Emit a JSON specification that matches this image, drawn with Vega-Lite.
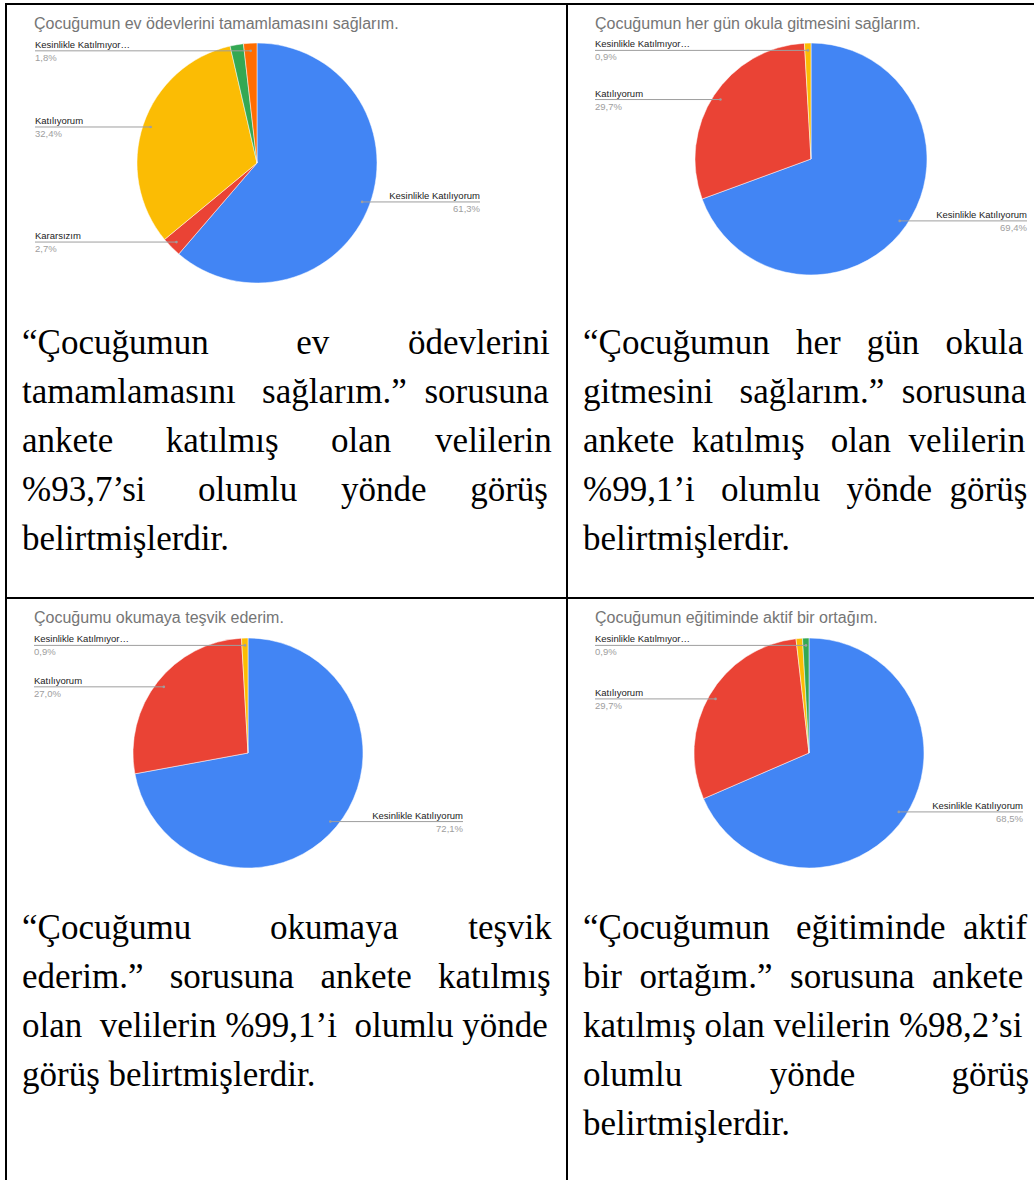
{
  "$schema": "https://vega.github.io/schema/vega-lite/v6.json",
  "background": "#ffffff",
  "padding": {"left": 5, "top": 3, "right": 0, "bottom": 0},
  "autosize": {"type": "pad"},
  "config": {
    "view": {"stroke": "#000000", "strokeWidth": 2},
    "locale": {"number": {"decimal": ",", "thousands": ".", "grouping": [3], "currency": ["", " TL"]}},
    "title": {"anchor": "start", "frame": "group", "offset": -28, "dx": 28, "baseline": "alphabetic", "font": "Liberation Sans", "fontSize": 16, "fontWeight": "normal", "color": "#757575"},
    "text": {"font": "Liberation Sans"}
  },
  "datasets": {
    "slices": [
      {"q": "A", "order": 1, "label": "Kesinlikle Katılıyorum", "share": 0.613},
      {"q": "A", "order": 2, "label": "Kararsızım", "share": 0.027},
      {"q": "A", "order": 3, "label": "Katılıyorum", "share": 0.324},
      {"q": "A", "order": 4, "share": 0.018},
      {"q": "A", "order": 5, "label": "Kesinlikle Katılmıyorum", "share": 0.018},
      {"q": "B", "order": 1, "label": "Kesinlikle Katılıyorum", "share": 0.694},
      {"q": "B", "order": 2, "label": "Katılıyorum", "share": 0.297},
      {"q": "B", "order": 3, "label": "Kesinlikle Katılmıyorum", "share": 0.009},
      {"q": "C", "order": 1, "label": "Kesinlikle Katılıyorum", "share": 0.721},
      {"q": "C", "order": 2, "label": "Katılıyorum", "share": 0.270},
      {"q": "C", "order": 3, "label": "Kesinlikle Katılmıyorum", "share": 0.009},
      {"q": "D", "order": 1, "label": "Kesinlikle Katılıyorum", "share": 0.685},
      {"q": "D", "order": 2, "label": "Katılıyorum", "share": 0.297},
      {"q": "D", "order": 3, "share": 0.009},
      {"q": "D", "order": 4, "label": "Kesinlikle Katılmıyorum", "share": 0.009}
    ],
    "para": [
      {"q": "A", "line": 1, "text": "“Çocuğumun \u00a0\u00a0\u00a0\u00a0\u00a0\u00a0\u00a0\u00a0\u00a0ev \u00a0\u00a0\u00a0\u00a0\u00a0\u00a0\u00a0\u00a0ödevlerini"},
      {"q": "A", "line": 2, "text": "tamamlamasını \u00a0\u00a0sağlarım.” \u00a0sorusuna"},
      {"q": "A", "line": 3, "text": "ankete \u00a0\u00a0\u00a0\u00a0\u00a0katılmış \u00a0\u00a0\u00a0\u00a0\u00a0olan \u00a0\u00a0\u00a0\u00a0velilerin"},
      {"q": "A", "line": 4, "text": "%93,7’si \u00a0\u00a0\u00a0\u00a0\u00a0olumlu \u00a0\u00a0\u00a0\u00a0yönde \u00a0\u00a0\u00a0\u00a0görüş"},
      {"q": "A", "line": 5, "text": "belirtmişlerdir."},
      {"q": "B", "line": 1, "text": "“Çocuğumun \u00a0\u00a0her \u00a0\u00a0gün \u00a0\u00a0okula"},
      {"q": "B", "line": 2, "text": "gitmesini \u00a0\u00a0sağlarım.” \u00a0sorusuna"},
      {"q": "B", "line": 3, "text": "ankete \u00a0katılmış \u00a0\u00a0olan \u00a0velilerin"},
      {"q": "B", "line": 4, "text": "%99,1’i \u00a0\u00a0olumlu \u00a0\u00a0yönde \u00a0görüş"},
      {"q": "B", "line": 5, "text": "belirtmişlerdir."},
      {"q": "C", "line": 1, "text": "“Çocuğumu \u00a0\u00a0\u00a0\u00a0\u00a0\u00a0\u00a0\u00a0okumaya \u00a0\u00a0\u00a0\u00a0\u00a0\u00a0\u00a0teşvik"},
      {"q": "C", "line": 2, "text": "ederim.” \u00a0\u00a0sorusuna \u00a0\u00a0ankete \u00a0\u00a0katılmış"},
      {"q": "C", "line": 3, "text": "olan \u00a0velilerin %99,1’i \u00a0olumlu yönde"},
      {"q": "C", "line": 4, "text": "görüş belirtmişlerdir."},
      {"q": "D", "line": 1, "text": "“Çocuğumun \u00a0\u00a0eğitiminde \u00a0aktif"},
      {"q": "D", "line": 2, "text": "bir \u00a0ortağım.” \u00a0sorusuna \u00a0ankete"},
      {"q": "D", "line": 3, "text": "katılmış olan velilerin %98,2’si"},
      {"q": "D", "line": 4, "text": "olumlu \u00a0\u00a0\u00a0\u00a0\u00a0\u00a0\u00a0\u00a0\u00a0yönde \u00a0\u00a0\u00a0\u00a0\u00a0\u00a0\u00a0\u00a0\u00a0\u00a0görüş"},
      {"q": "D", "line": 5, "text": "belirtmişlerdir."}
    ]
  },
  "columns": 2,
  "spacing": 0,
  "bounds": "flush",
  "align": "each",
  "concat": [
    {
      "width": 561, "height": 594,
      "title": {"text": "Çocuğumun ev ödevlerini tamamlamasını sağlarım."},
      "resolve": {"scale": {"x": "independent", "y": "independent"}},
      "layer": [
        {
          "data": {"name": "slices"},
          "transform": [{"filter": "datum.q === 'A'"}],
          "mark": {"type": "arc", "radius": 120, "xOffset": -29.5, "yOffset": -138, "stroke": "#ffffff", "strokeWidth": 0.5},
          "encoding": {
            "theta": {"field": "share", "type": "quantitative", "stack": true},
            "order": {"field": "order", "type": "quantitative"},
            "color": {"field": "order", "type": "nominal", "scale": {"domain": [1, 2, 3, 4, 5], "range": ["#4285f4", "#ea4335", "#fbbc04", "#34a853", "#ff6d01"]}, "legend": null}
          }
        },
        {
          "data": {"name": "slices"},
          "transform": [
            {"filter": "datum.q === 'A'"},
            {"stack": "share", "groupby": [], "sort": [{"field": "order", "order": "ascending"}], "as": ["f0", "f1"]},
            {"fold": ["f0", "f1"], "as": ["edge", "frac"]},
            {"aggregate": [{"op": "mean", "field": "frac", "as": "mid"}], "groupby": ["order", "label", "share"]},
            {"filter": "isValid(datum.label)"}
          ],
          "encoding": {
            "y": {"field": "mid", "type": "quantitative", "axis": null, "scale": {"zero": false, "nice": false,
              "domain": [0, 0.041667, 0.083333, 0.125, 0.166667, 0.208333, 0.25, 0.291667, 0.333333, 0.375, 0.416667, 0.458333, 0.5, 0.541667, 0.583333, 0.625, 0.666667, 0.708333, 0.75, 0.791667, 0.833333, 0.875, 0.916667, 0.958333, 1],
              "range": [46, 49.85, 61.14, 79.1, 102.5, 129.76, 159, 188.24, 215.5, 238.9, 256.86, 268.15, 272, 268.15, 256.86, 238.9, 215.5, 188.24, 159, 129.76, 102.5, 79.1, 61.14, 49.85, 46]}}
          },
          "layer": [
            {
              "transform": [{"filter": "datum.order !== 1"}],
              "mark": {"type": "rule", "color": "#9e9e9e", "strokeWidth": 1},
              "encoding": {
                "x": {"field": "mid", "type": "quantitative", "axis": null, "scale": {"zero": false, "nice": false,
                  "domain": [-1, 0, 0.041667, 0.083333, 0.125, 0.166667, 0.208333, 0.25, 0.291667, 0.333333, 0.375, 0.416667, 0.458333, 0.5, 0.541667, 0.583333, 0.625, 0.666667, 0.708333, 0.75, 0.791667, 0.833333, 0.875, 0.916667, 0.958333, 1, 2],
                  "range": [29, 251, 280.24, 307.5, 330.9, 348.86, 360.15, 364, 360.15, 348.86, 330.9, 307.5, 280.24, 251, 221.76, 194.5, 171.1, 153.14, 141.85, 138, 141.85, 153.14, 171.1, 194.5, 221.76, 251, 474]}},
                "x2": {"datum": -1}
              }
            },
            {
              "transform": [{"filter": "datum.order === 1"}],
              "mark": {"type": "rule", "color": "#9e9e9e", "strokeWidth": 1},
              "encoding": {"x": {"field": "mid", "type": "quantitative", "axis": null}, "x2": {"datum": 2}}
            },
            {
              "mark": {"type": "circle", "size": 7, "color": "#9e9e9e", "opacity": 1},
              "encoding": {"x": {"field": "mid", "type": "quantitative", "axis": null}}
            },
            {
              "transform": [{"filter": "datum.order !== 1"}],
              "mark": {"type": "text", "align": "left", "baseline": "alphabetic", "dy": -3, "fontSize": 9.5, "color": "#222222", "limit": 96},
              "encoding": {"x": {"datum": -1, "type": "quantitative", "axis": null}, "text": {"field": "label", "type": "nominal"}}
            },
            {
              "transform": [{"filter": "datum.order !== 1"}],
              "mark": {"type": "text", "align": "left", "baseline": "alphabetic", "dy": 10, "fontSize": 9.5, "color": "#9e9e9e"},
              "encoding": {"x": {"datum": -1, "type": "quantitative", "axis": null}, "text": {"field": "share", "type": "quantitative", "format": ".1%"}}
            },
            {
              "transform": [{"filter": "datum.order === 1"}],
              "mark": {"type": "text", "align": "right", "baseline": "alphabetic", "dy": -3, "fontSize": 9.5, "color": "#222222"},
              "encoding": {"x": {"datum": 2, "type": "quantitative", "axis": null}, "text": {"field": "label", "type": "nominal"}}
            },
            {
              "transform": [{"filter": "datum.order === 1"}],
              "mark": {"type": "text", "align": "right", "baseline": "alphabetic", "dy": 10, "fontSize": 9.5, "color": "#9e9e9e"},
              "encoding": {"x": {"datum": 2, "type": "quantitative", "axis": null}, "text": {"field": "share", "type": "quantitative", "format": ".1%"}}
            }
          ]
        },
        {
          "data": {"name": "para"},
          "transform": [{"filter": "datum.q === 'A'"}],
          "mark": {"type": "text", "align": "left", "baseline": "alphabetic", "font": "Liberation Serif", "fontSize": 35, "color": "#000000"},
          "encoding": {
            "x": {"datum": 0, "type": "quantitative", "axis": null, "scale": {"domain": [0, 1], "range": [16, 546]}},
            "y": {"field": "line", "type": "ordinal", "axis": null, "scale": {"type": "point", "domain": [1, 2, 3, 4, 5], "range": [350, 546], "padding": 0}},
            "text": {"field": "text", "type": "nominal"}
          }
        }
      ]
    },
    {
      "width": 468, "height": 594,
      "title": {"text": "Çocuğumun her gün okula gitmesini sağlarım."},
      "resolve": {"scale": {"x": "independent", "y": "independent"}},
      "layer": [
        {
          "data": {"name": "slices"},
          "transform": [{"filter": "datum.q === 'B'"}],
          "mark": {"type": "arc", "radius": 116, "xOffset": 10, "yOffset": -142, "stroke": "#ffffff", "strokeWidth": 0.5},
          "encoding": {
            "theta": {"field": "share", "type": "quantitative", "stack": true},
            "order": {"field": "order", "type": "quantitative"},
            "color": {"field": "order", "type": "nominal", "scale": {"domain": [1, 2, 3, 4, 5], "range": ["#4285f4", "#ea4335", "#fbbc04", "#34a853", "#ff6d01"]}, "legend": null}
          }
        },
        {
          "data": {"name": "slices"},
          "transform": [
            {"filter": "datum.q === 'B'"},
            {"stack": "share", "groupby": [], "sort": [{"field": "order", "order": "ascending"}], "as": ["f0", "f1"]},
            {"fold": ["f0", "f1"], "as": ["edge", "frac"]},
            {"aggregate": [{"op": "mean", "field": "frac", "as": "mid"}], "groupby": ["order", "label", "share"]},
            {"filter": "isValid(datum.label)"}
          ],
          "encoding": {
            "y": {"field": "mid", "type": "quantitative", "axis": null, "scale": {"zero": false, "nice": false,
              "domain": [0, 0.041667, 0.083333, 0.125, 0.166667, 0.208333, 0.25, 0.291667, 0.333333, 0.375, 0.416667, 0.458333, 0.5, 0.541667, 0.583333, 0.625, 0.666667, 0.708333, 0.75, 0.791667, 0.833333, 0.875, 0.916667, 0.958333, 1],
              "range": [46, 49.72, 60.61, 77.93, 100.5, 126.79, 155, 183.21, 209.5, 232.07, 249.39, 260.28, 264, 260.28, 249.39, 232.07, 209.5, 183.21, 155, 126.79, 100.5, 77.93, 60.61, 49.72, 46]}}
          },
          "layer": [
            {
              "transform": [{"filter": "datum.order !== 1"}],
              "mark": {"type": "rule", "color": "#9e9e9e", "strokeWidth": 1},
              "encoding": {
                "x": {"field": "mid", "type": "quantitative", "axis": null, "scale": {"zero": false, "nice": false,
                  "domain": [-1, 0, 0.041667, 0.083333, 0.125, 0.166667, 0.208333, 0.25, 0.291667, 0.333333, 0.375, 0.416667, 0.458333, 0.5, 0.541667, 0.583333, 0.625, 0.666667, 0.708333, 0.75, 0.791667, 0.833333, 0.875, 0.916667, 0.958333, 1, 2],
                  "range": [28, 244, 272.21, 298.5, 321.07, 338.39, 349.28, 353, 349.28, 338.39, 321.07, 298.5, 272.21, 244, 215.79, 189.5, 166.93, 149.61, 138.72, 135, 138.72, 149.61, 166.93, 189.5, 215.79, 244, 460]}},
                "x2": {"datum": -1}
              }
            },
            {
              "transform": [{"filter": "datum.order === 1"}],
              "mark": {"type": "rule", "color": "#9e9e9e", "strokeWidth": 1},
              "encoding": {"x": {"field": "mid", "type": "quantitative", "axis": null}, "x2": {"datum": 2}}
            },
            {
              "mark": {"type": "circle", "size": 7, "color": "#9e9e9e", "opacity": 1},
              "encoding": {"x": {"field": "mid", "type": "quantitative", "axis": null}}
            },
            {
              "transform": [{"filter": "datum.order !== 1"}],
              "mark": {"type": "text", "align": "left", "baseline": "alphabetic", "dy": -3, "fontSize": 9.5, "color": "#222222", "limit": 96},
              "encoding": {"x": {"datum": -1, "type": "quantitative", "axis": null}, "text": {"field": "label", "type": "nominal"}}
            },
            {
              "transform": [{"filter": "datum.order !== 1"}],
              "mark": {"type": "text", "align": "left", "baseline": "alphabetic", "dy": 10, "fontSize": 9.5, "color": "#9e9e9e"},
              "encoding": {"x": {"datum": -1, "type": "quantitative", "axis": null}, "text": {"field": "share", "type": "quantitative", "format": ".1%"}}
            },
            {
              "transform": [{"filter": "datum.order === 1"}],
              "mark": {"type": "text", "align": "right", "baseline": "alphabetic", "dy": -3, "fontSize": 9.5, "color": "#222222"},
              "encoding": {"x": {"datum": 2, "type": "quantitative", "axis": null}, "text": {"field": "label", "type": "nominal"}}
            },
            {
              "transform": [{"filter": "datum.order === 1"}],
              "mark": {"type": "text", "align": "right", "baseline": "alphabetic", "dy": 10, "fontSize": 9.5, "color": "#9e9e9e"},
              "encoding": {"x": {"datum": 2, "type": "quantitative", "axis": null}, "text": {"field": "share", "type": "quantitative", "format": ".1%"}}
            }
          ]
        },
        {
          "data": {"name": "para"},
          "transform": [{"filter": "datum.q === 'B'"}],
          "mark": {"type": "text", "align": "left", "baseline": "alphabetic", "font": "Liberation Serif", "fontSize": 35, "color": "#000000"},
          "encoding": {
            "x": {"datum": 0, "type": "quantitative", "axis": null, "scale": {"domain": [0, 1], "range": [16, 459]}},
            "y": {"field": "line", "type": "ordinal", "axis": null, "scale": {"type": "point", "domain": [1, 2, 3, 4, 5], "range": [350, 546], "padding": 0}},
            "text": {"field": "text", "type": "nominal"}
          }
        }
      ]
    },
    {
      "width": 561, "height": 583,
      "title": {"text": "Çocuğumu okumaya teşvik ederim."},
      "resolve": {"scale": {"x": "independent", "y": "independent"}},
      "layer": [
        {
          "data": {"name": "slices"},
          "transform": [{"filter": "datum.q === 'C'"}],
          "mark": {"type": "arc", "radius": 115, "xOffset": -38.5, "yOffset": -136.5, "stroke": "#ffffff", "strokeWidth": 0.5},
          "encoding": {
            "theta": {"field": "share", "type": "quantitative", "stack": true},
            "order": {"field": "order", "type": "quantitative"},
            "color": {"field": "order", "type": "nominal", "scale": {"domain": [1, 2, 3, 4, 5], "range": ["#4285f4", "#ea4335", "#fbbc04", "#34a853", "#ff6d01"]}, "legend": null}
          }
        },
        {
          "data": {"name": "slices"},
          "transform": [
            {"filter": "datum.q === 'C'"},
            {"stack": "share", "groupby": [], "sort": [{"field": "order", "order": "ascending"}], "as": ["f0", "f1"]},
            {"fold": ["f0", "f1"], "as": ["edge", "frac"]},
            {"aggregate": [{"op": "mean", "field": "frac", "as": "mid"}], "groupby": ["order", "label", "share"]},
            {"filter": "isValid(datum.label)"}
          ],
          "encoding": {
            "y": {"field": "mid", "type": "quantitative", "axis": null, "scale": {"zero": false, "nice": false,
              "domain": [0, 0.041667, 0.083333, 0.125, 0.166667, 0.208333, 0.25, 0.291667, 0.333333, 0.375, 0.416667, 0.458333, 0.5, 0.541667, 0.583333, 0.625, 0.666667, 0.708333, 0.75, 0.791667, 0.833333, 0.875, 0.916667, 0.958333, 1],
              "range": [47, 50.68, 61.47, 78.63, 101, 127.05, 155, 182.95, 209, 231.37, 248.53, 259.32, 263, 259.32, 248.53, 231.37, 209, 182.95, 155, 127.05, 101, 78.63, 61.47, 50.68, 47]}}
          },
          "layer": [
            {
              "transform": [{"filter": "datum.order !== 1"}],
              "mark": {"type": "rule", "color": "#9e9e9e", "strokeWidth": 1},
              "encoding": {
                "x": {"field": "mid", "type": "quantitative", "axis": null, "scale": {"zero": false, "nice": false,
                  "domain": [-1, 0, 0.041667, 0.083333, 0.125, 0.166667, 0.208333, 0.25, 0.291667, 0.333333, 0.375, 0.416667, 0.458333, 0.5, 0.541667, 0.583333, 0.625, 0.666667, 0.708333, 0.75, 0.791667, 0.833333, 0.875, 0.916667, 0.958333, 1, 2],
                  "range": [28, 242, 269.95, 296, 318.37, 335.53, 346.32, 350, 346.32, 335.53, 318.37, 296, 269.95, 242, 214.05, 188, 165.63, 148.47, 137.68, 134, 137.68, 148.47, 165.63, 188, 214.05, 242, 457]}},
                "x2": {"datum": -1}
              }
            },
            {
              "transform": [{"filter": "datum.order === 1"}],
              "mark": {"type": "rule", "color": "#9e9e9e", "strokeWidth": 1},
              "encoding": {"x": {"field": "mid", "type": "quantitative", "axis": null}, "x2": {"datum": 2}}
            },
            {
              "mark": {"type": "circle", "size": 7, "color": "#9e9e9e", "opacity": 1},
              "encoding": {"x": {"field": "mid", "type": "quantitative", "axis": null}}
            },
            {
              "transform": [{"filter": "datum.order !== 1"}],
              "mark": {"type": "text", "align": "left", "baseline": "alphabetic", "dy": -3, "fontSize": 9.5, "color": "#222222", "limit": 96},
              "encoding": {"x": {"datum": -1, "type": "quantitative", "axis": null}, "text": {"field": "label", "type": "nominal"}}
            },
            {
              "transform": [{"filter": "datum.order !== 1"}],
              "mark": {"type": "text", "align": "left", "baseline": "alphabetic", "dy": 10, "fontSize": 9.5, "color": "#9e9e9e"},
              "encoding": {"x": {"datum": -1, "type": "quantitative", "axis": null}, "text": {"field": "share", "type": "quantitative", "format": ".1%"}}
            },
            {
              "transform": [{"filter": "datum.order === 1"}],
              "mark": {"type": "text", "align": "right", "baseline": "alphabetic", "dy": -3, "fontSize": 9.5, "color": "#222222"},
              "encoding": {"x": {"datum": 2, "type": "quantitative", "axis": null}, "text": {"field": "label", "type": "nominal"}}
            },
            {
              "transform": [{"filter": "datum.order === 1"}],
              "mark": {"type": "text", "align": "right", "baseline": "alphabetic", "dy": 10, "fontSize": 9.5, "color": "#9e9e9e"},
              "encoding": {"x": {"datum": 2, "type": "quantitative", "axis": null}, "text": {"field": "share", "type": "quantitative", "format": ".1%"}}
            }
          ]
        },
        {
          "data": {"name": "para"},
          "transform": [{"filter": "datum.q === 'C'"}],
          "mark": {"type": "text", "align": "left", "baseline": "alphabetic", "font": "Liberation Serif", "fontSize": 35, "color": "#000000"},
          "encoding": {
            "x": {"datum": 0, "type": "quantitative", "axis": null, "scale": {"domain": [0, 1], "range": [16, 546]}},
            "y": {"field": "line", "type": "ordinal", "axis": null, "scale": {"type": "point", "domain": [1, 2, 3, 4, 5], "range": [341, 537], "padding": 0}},
            "text": {"field": "text", "type": "nominal"}
          }
        }
      ]
    },
    {
      "width": 468, "height": 583,
      "title": {"text": "Çocuğumun eğitiminde aktif bir ortağım."},
      "resolve": {"scale": {"x": "independent", "y": "independent"}},
      "layer": [
        {
          "data": {"name": "slices"},
          "transform": [{"filter": "datum.q === 'D'"}],
          "mark": {"type": "arc", "radius": 115, "xOffset": 8, "yOffset": -136.5, "stroke": "#ffffff", "strokeWidth": 0.5},
          "encoding": {
            "theta": {"field": "share", "type": "quantitative", "stack": true},
            "order": {"field": "order", "type": "quantitative"},
            "color": {"field": "order", "type": "nominal", "scale": {"domain": [1, 2, 3, 4, 5], "range": ["#4285f4", "#ea4335", "#fbbc04", "#34a853", "#ff6d01"]}, "legend": null}
          }
        },
        {
          "data": {"name": "slices"},
          "transform": [
            {"filter": "datum.q === 'D'"},
            {"stack": "share", "groupby": [], "sort": [{"field": "order", "order": "ascending"}], "as": ["f0", "f1"]},
            {"fold": ["f0", "f1"], "as": ["edge", "frac"]},
            {"aggregate": [{"op": "mean", "field": "frac", "as": "mid"}], "groupby": ["order", "label", "share"]},
            {"filter": "isValid(datum.label)"}
          ],
          "encoding": {
            "y": {"field": "mid", "type": "quantitative", "axis": null, "scale": {"zero": false, "nice": false,
              "domain": [0, 0.041667, 0.083333, 0.125, 0.166667, 0.208333, 0.25, 0.291667, 0.333333, 0.375, 0.416667, 0.458333, 0.5, 0.541667, 0.583333, 0.625, 0.666667, 0.708333, 0.75, 0.791667, 0.833333, 0.875, 0.916667, 0.958333, 1],
              "range": [47, 50.68, 61.47, 78.63, 101, 127.05, 155, 182.95, 209, 231.37, 248.53, 259.32, 263, 259.32, 248.53, 231.37, 209, 182.95, 155, 127.05, 101, 78.63, 61.47, 50.68, 47]}}
          },
          "layer": [
            {
              "transform": [{"filter": "datum.order !== 1"}],
              "mark": {"type": "rule", "color": "#9e9e9e", "strokeWidth": 1},
              "encoding": {
                "x": {"field": "mid", "type": "quantitative", "axis": null, "scale": {"zero": false, "nice": false,
                  "domain": [-1, 0, 0.041667, 0.083333, 0.125, 0.166667, 0.208333, 0.25, 0.291667, 0.333333, 0.375, 0.416667, 0.458333, 0.5, 0.541667, 0.583333, 0.625, 0.666667, 0.708333, 0.75, 0.791667, 0.833333, 0.875, 0.916667, 0.958333, 1, 2],
                  "range": [28, 242, 269.95, 296, 318.37, 335.53, 346.32, 350, 346.32, 335.53, 318.37, 296, 269.95, 242, 214.05, 188, 165.63, 148.47, 137.68, 134, 137.68, 148.47, 165.63, 188, 214.05, 242, 456]}},
                "x2": {"datum": -1}
              }
            },
            {
              "transform": [{"filter": "datum.order === 1"}],
              "mark": {"type": "rule", "color": "#9e9e9e", "strokeWidth": 1},
              "encoding": {"x": {"field": "mid", "type": "quantitative", "axis": null}, "x2": {"datum": 2}}
            },
            {
              "mark": {"type": "circle", "size": 7, "color": "#9e9e9e", "opacity": 1},
              "encoding": {"x": {"field": "mid", "type": "quantitative", "axis": null}}
            },
            {
              "transform": [{"filter": "datum.order !== 1"}],
              "mark": {"type": "text", "align": "left", "baseline": "alphabetic", "dy": -3, "fontSize": 9.5, "color": "#222222", "limit": 96},
              "encoding": {"x": {"datum": -1, "type": "quantitative", "axis": null}, "text": {"field": "label", "type": "nominal"}}
            },
            {
              "transform": [{"filter": "datum.order !== 1"}],
              "mark": {"type": "text", "align": "left", "baseline": "alphabetic", "dy": 10, "fontSize": 9.5, "color": "#9e9e9e"},
              "encoding": {"x": {"datum": -1, "type": "quantitative", "axis": null}, "text": {"field": "share", "type": "quantitative", "format": ".1%"}}
            },
            {
              "transform": [{"filter": "datum.order === 1"}],
              "mark": {"type": "text", "align": "right", "baseline": "alphabetic", "dy": -3, "fontSize": 9.5, "color": "#222222"},
              "encoding": {"x": {"datum": 2, "type": "quantitative", "axis": null}, "text": {"field": "label", "type": "nominal"}}
            },
            {
              "transform": [{"filter": "datum.order === 1"}],
              "mark": {"type": "text", "align": "right", "baseline": "alphabetic", "dy": 10, "fontSize": 9.5, "color": "#9e9e9e"},
              "encoding": {"x": {"datum": 2, "type": "quantitative", "axis": null}, "text": {"field": "share", "type": "quantitative", "format": ".1%"}}
            }
          ]
        },
        {
          "data": {"name": "para"},
          "transform": [{"filter": "datum.q === 'D'"}],
          "mark": {"type": "text", "align": "left", "baseline": "alphabetic", "font": "Liberation Serif", "fontSize": 35, "color": "#000000"},
          "encoding": {
            "x": {"datum": 0, "type": "quantitative", "axis": null, "scale": {"domain": [0, 1], "range": [16, 459]}},
            "y": {"field": "line", "type": "ordinal", "axis": null, "scale": {"type": "point", "domain": [1, 2, 3, 4, 5], "range": [341, 537], "padding": 0}},
            "text": {"field": "text", "type": "nominal"}
          }
        }
      ]
    }
  ]
}
